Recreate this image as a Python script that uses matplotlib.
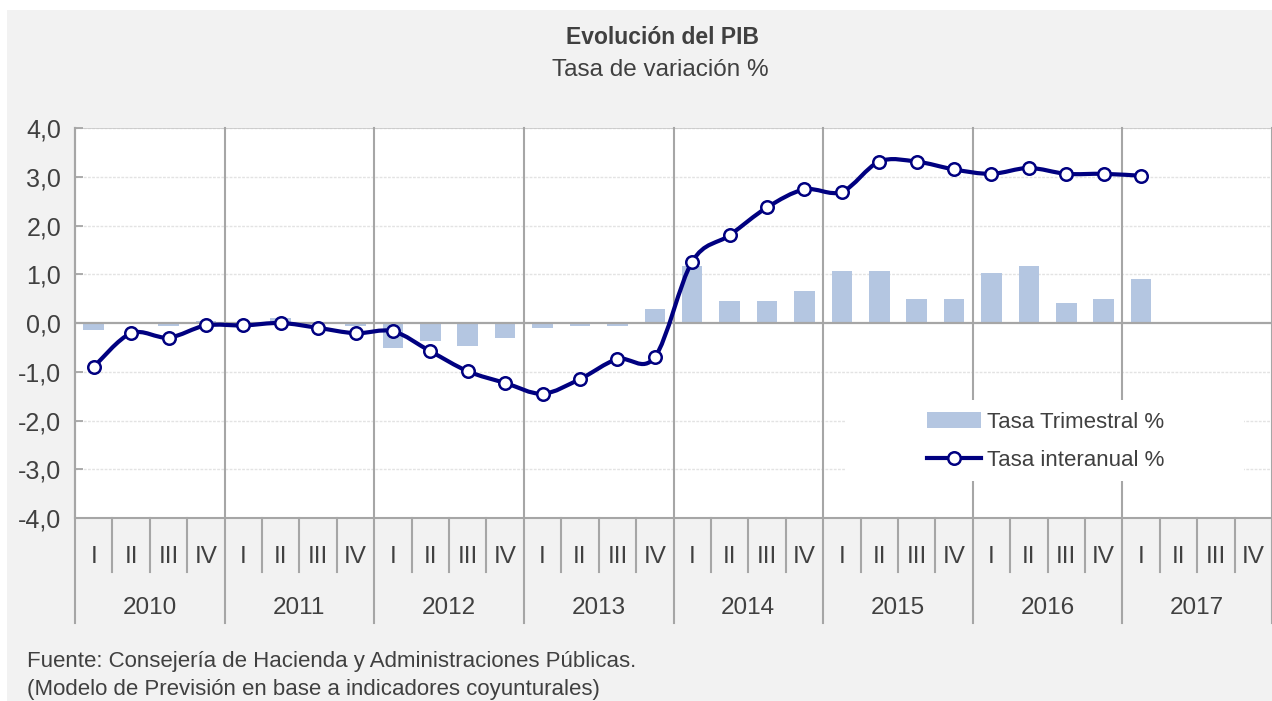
import numpy as np
import matplotlib.pyplot as plt
from matplotlib.path import Path
from matplotlib.patches import PathPatch, Patch, Rectangle
from matplotlib.lines import Line2D
from matplotlib.transforms import blended_transform_factory

plt.rcParams['font.family'] = ['Liberation Sans', 'DejaVu Sans']

# ----------------------------------------------------
# DATA
# ----------------------------------------------------
years = ["2010", "2011", "2012", "2013", "2014", "2015", "2016", "2017"]
quarters = ["I", "II", "III", "IV"]

tasa_trimestral = [-0.15, 0.00, -0.07, 0.05,
                   0.02, 0.10, -0.02, -0.07,
                   -0.52, -0.36, -0.48, -0.31,
                   -0.11, -0.07, -0.07, 0.29,
                   1.16, 0.46, 0.46, 0.66,
                   1.07, 1.07, 0.50, 0.50,
                   1.03, 1.16, 0.42, 0.50,
                   0.91]

tasa_interanual = [-0.90, -0.21, -0.30, -0.05,
                   -0.05, 0.00, -0.10, -0.21,
                   -0.17, -0.58, -0.99, -1.23,
                   -1.45, -1.15, -0.74, -0.70,
                   1.26, 1.80, 2.37, 2.74,
                   2.69, 3.31, 3.31, 3.15,
                   3.06, 3.18, 3.06, 3.06,
                   3.02]

yticks = [-4, -3, -2, -1, 0, 1, 2, 3, 4]

BAR_COLOR = "#b4c6e1"
LINE_COLOR = "#000080"
GRID_GRAY = "#a6a6a6"
TEXT = "#404040"

n_slots = len(years) * len(quarters)
x = np.arange(len(tasa_interanual))


def smooth_path(xs, ys):
    # excel-like smoothed line (catmull-rom as bezier segments)
    verts = [(xs[0], ys[0])]
    codes = [Path.MOVETO]
    n = len(xs)
    for i in range(n - 1):
        a = max(i - 1, 0)
        b = min(i + 2, n - 1)
        c1 = (xs[i] + (xs[i + 1] - xs[a]) / 6, ys[i] + (ys[i + 1] - ys[a]) / 6)
        c2 = (xs[i + 1] - (xs[b] - xs[i]) / 6, ys[i + 1] - (ys[b] - ys[i]) / 6)
        verts += [c1, c2, (xs[i + 1], ys[i + 1])]
        codes += [Path.CURVE4] * 3
    return Path(verts, codes)


# ----------------------------------------------------
# FIGURE
# ----------------------------------------------------
fig = plt.figure(figsize=(12.72, 7.01), dpi=100, facecolor="white")
fig.patches.append(Rectangle((7 / 1272, 0), 1, 1 - 10 / 701, transform=fig.transFigure,
                             facecolor="#f2f2f2", edgecolor="none", zorder=-10))

ax = fig.add_axes([75 / 1272, (701 - 518) / 701, 1197 / 1272, 390 / 701])
ax.set_facecolor("white")
ax.set_xlim(-0.5, n_slots - 0.5)
ax.set_ylim(-4, 4)

# horizontal grid
for v in yticks[1:]:
    if v != 0:
        ax.axhline(v, color="#e3e3e3", lw=1, ls=(0, (2, 1)), zorder=1)

# bars
ax.bar(x, tasa_trimestral, width=0.55, color=BAR_COLOR, zorder=2)

# zero line
ax.axhline(0, color=GRID_GRAY, lw=1.6, zorder=2.5)

# year separators (inside plot and down through the label area)
tr = blended_transform_factory(ax.transData, ax.transAxes)
for j in range(len(years) + 1):
    xs = j * 4 - 0.5
    ax.plot([xs, xs], [1, -0.270], transform=tr, color=GRID_GRAY, lw=1.5,
            clip_on=False, zorder=1.5)
for k in range(n_slots):
    if k % 4 != 0:
        ax.plot([k - 0.5, k - 0.5], [0, -0.1377], transform=tr, color=GRID_GRAY,
                lw=1.5, clip_on=False, zorder=1.5)

# quarter and year labels
for k in range(n_slots):
    ax.text(k, -0.101, quarters[k % 4], transform=tr, ha="center", va="center",
            fontsize=17.5, color=TEXT)
for j, yr in enumerate(years):
    ax.text(j * 4 + 1.5, -0.2295, yr, transform=tr, ha="center", va="center",
            fontsize=17.5, color=TEXT)

# white legend box covering gridlines
ax.add_patch(Rectangle((0.644, 0.095), 0.333, 0.208, transform=ax.transAxes,
                       facecolor="white", edgecolor="none", zorder=2.2))

# smoothed line + markers
ax.add_patch(PathPatch(smooth_path(x, tasa_interanual), fill=False,
                       edgecolor=LINE_COLOR, lw=3, capstyle="round",
                       joinstyle="round", zorder=3))
ax.plot(x, tasa_interanual, linestyle="none", marker="o", ms=9,
        mfc="white", mec=LINE_COLOR, mew=1.8, zorder=4)

# axes styling
ax.set_yticks(yticks)
ax.set_yticklabels([f"{v:.1f}".replace(".", ",") for v in yticks],
                   fontsize=18, color=TEXT)
ax.set_xticks([])
ax.tick_params(axis="y", direction="in", length=6, width=1.3, color=GRID_GRAY, pad=10)
for side in ["top", "right"]:
    ax.spines[side].set_visible(False)
ax.axhline(4, color="#c8c8c8", lw=1.2, zorder=1)
for side in ["left", "bottom"]:
    ax.spines[side].set_color(GRID_GRAY)
    ax.spines[side].set_linewidth(1.5)

# legend
handles = [Patch(facecolor=BAR_COLOR, edgecolor="none"),
           Line2D([], [], color=LINE_COLOR, lw=3, marker="o", ms=9,
                  mfc="white", mec=LINE_COLOR, mew=1.8)]
leg = ax.legend(handles, ["Tasa Trimestral %", "Tasa interanual %"],
                loc="center left", bbox_to_anchor=(0.712, 0.197), frameon=False,
                fontsize=16, handlelength=2.4, handletextpad=0.3,
                labelspacing=0.75, borderpad=0, borderaxespad=0)
for t in leg.get_texts():
    t.set_color(TEXT)
leg.set_zorder(5)

# titles and source
fig.text(663 / 1272, 1 - 38 / 701, "Evolución del PIB", ha="center", va="center",
         fontsize=16.5, fontweight="bold", color=TEXT)
fig.text(660 / 1272, 1 - 70 / 701, "Tasa de variación %", ha="center", va="center",
         fontsize=17.5, color=TEXT)
fig.text(27 / 1272, 1 - 661 / 701,
         "Fuente: Consejería de Hacienda y Administraciones Públicas.",
         ha="left", va="center", fontsize=16, color=TEXT)
fig.text(27 / 1272, 1 - 690 / 701,
         "(Modelo de Previsión en base a indicadores coyunturales)",
         ha="left", va="center", fontsize=16, color=TEXT)

fig.savefig("out.png", dpi=100, facecolor=fig.get_facecolor())
